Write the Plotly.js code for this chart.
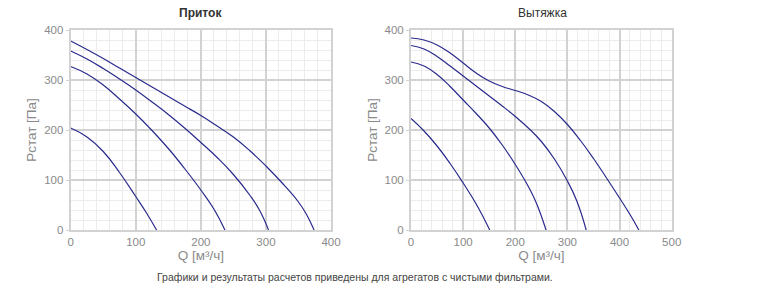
<!DOCTYPE html>
<html><head><meta charset="utf-8">
<script src="https://cdn.plot.ly/plotly-3.0.1.min.js"></script>
<style>html,body{margin:0;padding:0;background:#fff;}#chart{width:776px;height:306px;}</style>
</head><body><div id="chart"></div>
<script>
// Приток (supply)
const supplyQ1 = [0, 25, 50, 75, 100, 125, 150, 175, 200, 225, 250, 275, 300, 325, 350, 362, 374];
const supplyP1 = [378, 361, 343, 324, 305, 286, 267, 248, 229, 208, 186, 159, 128, 94, 56, 32, 0];
const supplyQ2 = [0, 25, 50, 75, 100, 125, 150, 175, 200, 225, 250, 275, 290, 304];
const supplyP2 = [358, 342, 323, 302, 280, 256, 231, 204, 175, 145, 111, 70, 40, 0];
const supplyQ3 = [0, 25, 50, 75, 100, 125, 150, 175, 200, 220, 237];
const supplyP3 = [327, 312, 290, 262, 232, 199, 163, 123, 80, 42, 0];
const supplyQ4 = [0, 25, 50, 75, 100, 116, 132];
const supplyP4 = [204, 186, 157, 115, 67, 35, 0];
// Вытяжка (exhaust)
const exhaustQ1 = [0, 25, 50, 75, 100, 125, 150, 175, 200, 225, 250, 275, 300, 325, 350, 375, 400, 420, 437];
const exhaustP1 = [384, 380, 370, 354, 334, 314, 298, 287, 279, 270, 257, 237, 211, 179, 143, 104, 64, 31, 0];
const exhaustQ2 = [0, 25, 50, 75, 100, 125, 150, 175, 200, 225, 250, 275, 300, 318, 336];
const exhaustP2 = [369, 362, 347, 328, 308, 288, 268, 248, 227, 204, 177, 142, 98, 58, 0];
const exhaustQ3 = [0, 25, 50, 75, 100, 125, 150, 175, 200, 225, 240, 259];
const exhaustP3 = [336, 328, 311, 287, 260, 233, 204, 170, 131, 87, 55, 0];
const exhaustQ4 = [0, 25, 50, 75, 100, 125, 151];
const exhaustP4 = [223, 198, 168, 133, 94, 52, 0];

const titles = ["Приток", "Вытяжка"];
const xTitle = "Q [м³/ч]";
const yTitle = "Pстат [Па]";
const footer = "Графики и результаты расчетов приведены для агрегатов с чистыми фильтрами.";

const lineColor = "#2a2a8c";
function tr(x, y, ax) {
  return {x: x, y: y, type: "scatter", mode: "lines", line: {color: lineColor, width: 1.2, shape: "spline", smoothing: 1.3},
    xaxis: ax === 1 ? "x" : "x2", yaxis: ax === 1 ? "y" : "y2", hoverinfo: "none", showlegend: false, cliponaxis: true};
}
const data = [
  tr(supplyQ1, supplyP1, 1), tr(supplyQ2, supplyP2, 1), tr(supplyQ3, supplyP3, 1), tr(supplyQ4, supplyP4, 1),
  tr(exhaustQ1, exhaustP1, 2), tr(exhaustQ2, exhaustP2, 2), tr(exhaustQ3, exhaustP3, 2), tr(exhaustQ4, exhaustP4, 2)
];
const font = {family: "Liberation Sans, Arial, sans-serif", size: 11.5, color: "#8a8a8a"};
function xa(domain, max, anchor) {
  return {domain: domain, range: [0, max], dtick: 100, tick0: 0, anchor: anchor, showgrid: true, gridcolor: "#d2d2d2", gridwidth: 2,
    minor: {dtick: 20, showgrid: true, gridcolor: "#ececec", gridwidth: 1}, zeroline: false, showline: true, mirror: true,
    linecolor: "#d2d2d2", linewidth: 2, ticks: "", tickfont: font,
    title: {text: xTitle, font: {family: font.family, size: 13.5, color: "#8a8a8a"}, standoff: 0}, fixedrange: true};
}
function ya(domain, anchor) {
  return {domain: domain, range: [0, 400], dtick: 100, tick0: 0, anchor: anchor, showgrid: true, gridcolor: "#d2d2d2", gridwidth: 2,
    minor: {dtick: 20, showgrid: true, gridcolor: "#ececec", gridwidth: 1}, zeroline: false, showline: true, mirror: true,
    linecolor: "#d2d2d2", linewidth: 2, ticks: "outside", ticklen: 3, tickcolor: "#d2d2d2", tickfont: font,
    title: {text: yTitle, font: {family: font.family, size: 13.5, color: "#8a8a8a"}, standoff: 4}, fixedrange: true};
}
const yd = [(306 - 230) / 306, (306 - 30) / 306];
const layout = {
  width: 776, height: 306, margin: {l: 0, r: 0, t: 0, b: 0}, paper_bgcolor: "#fff", plot_bgcolor: "#fff",
  xaxis: xa([70.7 / 776, 331 / 776], 400, "y"),
  yaxis: ya(yd, "x"),
  xaxis2: xa([411 / 776, 671.7 / 776], 500, "y2"),
  yaxis2: ya(yd, "x2"),
  annotations: [
    {text: "<b>" + titles[0] + "</b>", xref: "paper", yref: "paper", x: 200.5 / 776, y: 1 - 13 / 306, showarrow: false,
      font: {family: font.family, size: 12, color: "#333"}, xanchor: "center", yanchor: "middle"},
    {text: titles[1], xref: "paper", yref: "paper", x: 542 / 776, y: 1 - 13 / 306, showarrow: false,
      font: {family: font.family, size: 12, color: "#333"}, xanchor: "center", yanchor: "middle"},
    {text: footer, xref: "paper", yref: "paper", x: 355 / 776, y: 1 - 277 / 306, showarrow: false,
      font: {family: font.family, size: 10.5, color: "#444"}, xanchor: "center", yanchor: "middle"}
  ]
};
Plotly.newPlot("chart", data, layout, {staticPlot: true, displayModeBar: false});
</script></body></html>
